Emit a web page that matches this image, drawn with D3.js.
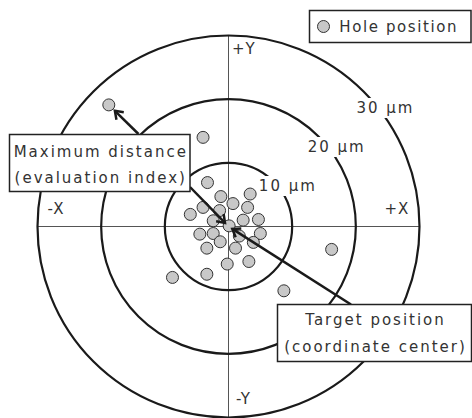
<!DOCTYPE html>
<html>
<head>
<meta charset="utf-8">
<script src="https://cdn.jsdelivr.net/npm/d3@7"></script>
<style>
  html, body { margin: 0; padding: 0; background: #fff; }
  svg { display: block; }
  text { font-family: "DejaVu Sans", Verdana, sans-serif; fill: #333; }
</style>
</head>
<body>
<svg id="chart" width="472" height="418"></svg>
<script>
// ---- data (µm) ----
const holeX = [-3.3, 3.4, -1.2, 0.7, -4.0, 3.0, -6.0, -1.4, -2.4, 2.3, 4.7, 0.1, -4.5, -2.4,
               1.7, 5.0, -1.3, 3.9, -3.4, 1.1, 3.2, -0.2, -3.4, -8.8, 16.2, 8.7, -18.8, -4.0];
const holeY = [6.9, 5.1, 4.7, 3.6, 3.0, 3.0, 1.9, 2.5, 0.9, 1.0, 1.1, 0.1, -1.2, -1.1,
               -1.5, -1.1, -2.4, -2.5, -3.4, -3.4, -5.5, -5.9, -7.5, -8.0, -3.6, -10.1, 19.1, 14.0];
const ringRadii = [10, 20, 30];
const ringLabels = ["10 µm", "20 µm", "30 µm"];
const axisLabels = ["+Y", "-X", "+X", "-Y"];
const legendLabel = "Hole position";
const maxBoxLines = ["Maximum distance", "(evaluation index)"];
const targetBoxLines = ["Target position", "(coordinate center)"];

// ---- layout ----
const svg = d3.select("#chart");
const cx = 228.5, cy = 226.5, R = 191;
const x = d3.scaleLinear().domain([-30, 30]).range([cx - R, cx + R]);
const y = d3.scaleLinear().domain([-30, 30]).range([cy + R, cy - R]);
const rpx = v => x(v) - x(0);
const holes = holeX.map((v, i) => ({x: v, y: holeY[i]}));

// axes lines
svg.append("line").attr("x1", x(-30)).attr("x2", x(30)).attr("y1", y(0)).attr("y2", y(0))
  .attr("stroke", "#555").attr("stroke-width", 1);
svg.append("line").attr("x1", x(0)).attr("x2", x(0)).attr("y1", y(30)).attr("y2", y(-30))
  .attr("stroke", "#555").attr("stroke-width", 1);

// rings
svg.selectAll("circle.ring").data(ringRadii).join("circle").attr("class", "ring")
  .attr("cx", x(0)).attr("cy", y(0)).attr("r", d => rpx(d))
  .attr("fill", "none").attr("stroke", "#1a1a1a").attr("stroke-width", 2.2);

// ring labels with white backgrounds
const rl = svg.selectAll("g.rl").data(ringRadii).join("g").attr("class", "rl");
rl.each(function(d, i) {
  const g = d3.select(this);
  const lx = x(0) + 9.6 + 0.766 * rpx(d);
  const ly = y(0) + 3.5 - 0.6125 * rpx(d);
  const t = g.append("text").attr("x", lx + 1).attr("y", ly)
    .attr("text-anchor", "middle").attr("font-size", 15)
    .style("letter-spacing", "2px").text(ringLabels[i]);
  const bb = t.node().getBBox();
  g.insert("rect", "text").attr("x", bb.x - 3).attr("y", bb.y - 1)
    .attr("width", bb.width + 4).attr("height", bb.height + 2).attr("fill", "#fff");
});

// axis labels
const axPos = [
  {x: x(0) + 3.5, y: y(30) + 18.5, a: "start"},
  {x: x(-30) + 10, y: y(0) - 13, a: "start"},
  {x: x(30) - 35, y: y(0) - 13, a: "start"},
  {x: x(0) + 7.5, y: y(-30) - 13.5, a: "start"}
];
svg.selectAll("text.ax").data(axisLabels).join("text").attr("class", "ax")
  .attr("x", (d, i) => axPos[i].x).attr("y", (d, i) => axPos[i].y)
  .attr("font-size", 15).style("letter-spacing", "1px").text(d => d);

// hole points
svg.selectAll("circle.hole").data(holes).join("circle").attr("class", "hole")
  .attr("cx", d => x(d.x)).attr("cy", d => y(d.y)).attr("r", 6)
  .attr("fill", "#c8c8c8").attr("stroke", "#333").attr("stroke-width", 1);

// arrows
function arrow(x1, y1, x2, y2) {
  const ang = Math.atan2(y2 - y1, x2 - x1);
  const L = 9, h = 0.62;
  svg.append("line").attr("x1", x1).attr("y1", y1).attr("x2", x2).attr("y2", y2)
    .attr("stroke", "#1a1a1a").attr("stroke-width", 2.5);
  const p1 = [x2 - L * Math.cos(ang - h), y2 - L * Math.sin(ang - h)];
  const p2 = [x2 - L * Math.cos(ang + h), y2 - L * Math.sin(ang + h)];
  svg.append("path").attr("d", `M${p1}L${x2},${y2}L${p2}`)
    .attr("fill", "none").attr("stroke", "#1a1a1a").attr("stroke-width", 2.5)
    .attr("stroke-linejoin", "miter");
}
// farthest hole
const far = holes.reduce((a, b) => (Math.hypot(b.x, b.y) > Math.hypot(a.x, a.y) ? b : a));
function tipTowards(tx, ty, sx, sy, off) {
  const d = Math.hypot(sx - tx, sy - ty);
  return [tx + (sx - tx) / d * off, ty + (sy - ty) / d * off];
}
let t1 = tipTowards(x(far.x), y(far.y), 138.5, 134, 8.5);
arrow(138.5, 134, t1[0], t1[1]);
let t2 = tipTowards(x(0), y(0), 190, 187, 5);
arrow(190, 187, t2[0], t2[1]);
let t3 = tipTowards(x(0), y(0), 351, 304.5, 4.5);
arrow(351, 304.5, t3[0], t3[1]);

// boxes
function box(x0, y0, w, h, lines, b1, lh) {
  svg.append("rect").attr("x", x0).attr("y", y0).attr("width", w).attr("height", h)
    .attr("fill", "#fff").attr("stroke", "#222").attr("stroke-width", 1.5);
  lines.forEach((s, i) => {
    svg.append("text").attr("x", x0 + w / 2 + 1).attr("y", b1 + i * lh)
      .attr("text-anchor", "middle").attr("font-size", 15)
      .style("letter-spacing", "2px").text(s);
  });
}
box(9.5, 134.5, 180.5, 57, maxBoxLines, 157.3, 25.4);
box(277.5, 304.5, 194, 57, targetBoxLines, 325, 26.7);

// legend
svg.append("rect").attr("x", 309.5).attr("y", 10.5).attr("width", 161.5).attr("height", 32)
  .attr("fill", "#fff").attr("stroke", "#222").attr("stroke-width", 1.5);
svg.append("circle").attr("cx", 323.5).attr("cy", 26.5).attr("r", 6)
  .attr("fill", "#c8c8c8").attr("stroke", "#333").attr("stroke-width", 1);
svg.append("text").attr("x", 339.3).attr("y", 32.3).attr("font-size", 15)
  .style("letter-spacing", "1.6px").text(legendLabel);
</script>
</body>
</html>
